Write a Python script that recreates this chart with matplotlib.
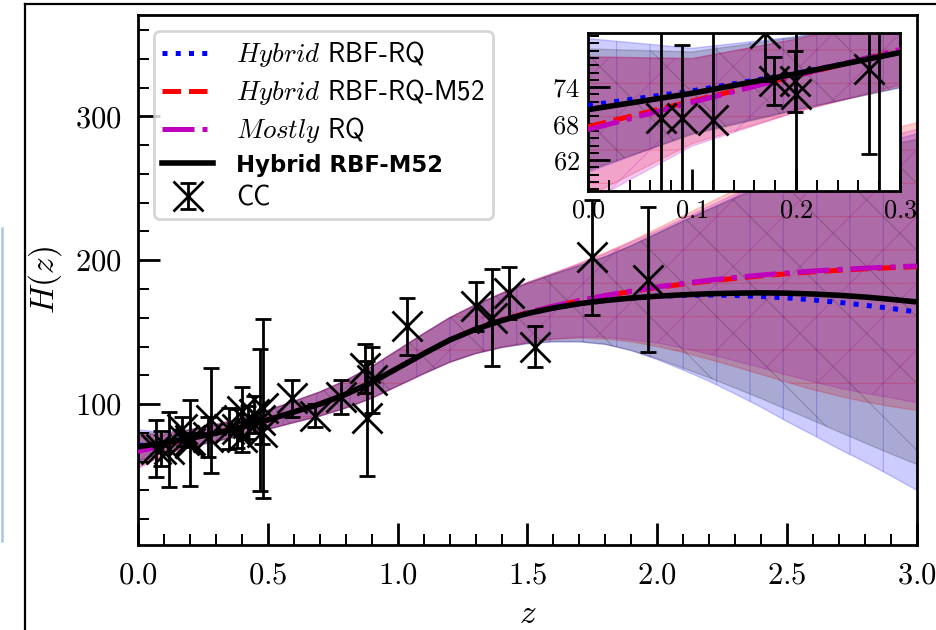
import numpy as np
import matplotlib
matplotlib.use("Agg")
import matplotlib.pyplot as plt
from matplotlib.ticker import MultipleLocator, FixedLocator
from matplotlib.font_manager import FontProperties
from matplotlib.lines import Line2D

plt.rcParams.update({
    "font.family": "serif",
    "font.serif": ["cmr10"],
    "mathtext.fontset": "cm",
    "axes.formatter.use_mathtext": True,
    "axes.unicode_minus": False,
    "hatch.linewidth": 0.45,
    "axes.linewidth": 1.0,
})

# ---- Cosmic chronometer measurements ----
z_cc = [0.07, 0.09, 0.12, 0.17, 0.179, 0.199, 0.2, 0.27, 0.28, 0.352, 0.38,
        0.4, 0.4004, 0.425, 0.445, 0.47, 0.4783, 0.48, 0.593, 0.68, 0.781,
        0.875, 0.88, 0.9, 1.037, 1.3, 1.363, 1.43, 1.53, 1.75, 1.965]
H_cc = [69.0, 69.0, 68.6, 83.0, 75.0, 75.0, 72.9, 77.0, 88.8, 83.0, 83.0,
        95.0, 77.0, 87.1, 92.8, 89.0, 80.9, 97.0, 104.0, 92.0, 105.0,
        125.0, 90.0, 117.0, 154.0, 168.0, 160.0, 177.0, 140.0, 202.0, 186.5]
sig_cc = [19.6, 12.0, 26.2, 8.0, 4.0, 5.0, 29.6, 14.0, 36.6, 14.0, 13.5,
          17.0, 10.2, 11.2, 12.9, 49.6, 9.0, 62.0, 13.0, 8.0, 12.0,
          17.0, 40.0, 23.0, 20.0, 17.0, 33.6, 18.0, 14.0, 40.0, 50.4]

# ---- GP reconstructions (mean and band half-width) ----
z_gp = [0.0, 0.1, 0.2, 0.3, 0.4, 0.5, 0.6, 0.7, 0.8, 0.9, 1.0,
        1.1, 1.2, 1.3, 1.4, 1.5, 1.6, 1.7, 1.8, 1.9, 2.0,
        2.1, 2.2, 2.3, 2.4, 2.5, 2.6, 2.7, 2.8, 2.9, 3.0]

H_rbf_rq = [71.0, 73.4, 76.3, 79.7, 84.0, 89.0, 94.5, 100.0, 106.8, 115.0, 125.0,
            135.0, 144.5, 152.0, 158.0, 163.0, 166.8, 169.8, 172.0, 173.7, 174.9,
            175.6, 175.8, 175.5, 174.8, 173.8, 172.4, 170.7, 168.7, 166.5, 164.0]
H_rbf_rq_m52 = [67.5, 71.7, 75.9, 80.0, 84.2, 89.0, 94.5, 100.0, 106.8, 115.0, 125.0,
                135.0, 144.5, 152.2, 158.3, 163.6, 168.0, 171.9, 175.3, 178.3, 181.0,
                183.4, 185.5, 187.4, 189.1, 190.6, 191.9, 193.0, 194.0, 194.8, 195.5]
H_mostly_rq = [67.0, 71.5, 75.9, 80.2, 84.3, 89.0, 94.5, 100.0, 106.8, 115.0, 125.0,
               135.0, 144.5, 152.2, 158.3, 163.6, 168.1, 172.0, 175.5, 178.6, 181.4,
               183.9, 186.1, 188.0, 189.7, 191.2, 192.5, 193.6, 194.5, 195.3, 196.0]
H_rbf_m52 = [70.3, 73.0, 76.2, 79.7, 84.0, 89.0, 94.5, 100.0, 106.8, 115.0, 125.0,
             135.0, 144.5, 152.0, 158.0, 163.0, 166.8, 169.8, 172.0, 173.7, 175.0,
             176.0, 176.7, 177.1, 177.3, 177.1, 176.5, 175.6, 174.4, 172.8, 171.0]

err_rbf_rq = [11.0, 7.0, 6.0, 5.8, 6.0, 6.6, 7.4, 8.4, 9.6, 11.0, 12.5,
              14.0, 15.5, 17.0, 18.8, 21.0, 23.5, 26.5, 30.5, 36.5, 44.0,
              52.0, 60.0, 68.5, 77.0, 86.0, 94.0, 102.0, 109.0, 116.5, 124.0]
err_rbf_rq_m52 = [11.5, 7.0, 6.0, 5.8, 6.0, 6.6, 7.4, 8.4, 9.6, 11.0, 12.5,
                  14.0, 15.5, 17.0, 18.8, 21.0, 23.0, 26.0, 30.0, 35.0, 41.0,
                  47.5, 54.5, 61.5, 68.5, 75.5, 82.0, 87.5, 92.5, 96.5, 100.0]
err_mostly_rq = [12.0, 7.2, 6.0, 5.8, 6.0, 6.6, 7.4, 8.4, 9.6, 11.0, 12.5,
                 14.0, 15.5, 17.0, 18.8, 21.0, 22.8, 25.5, 29.0, 34.0, 39.0,
                 45.0, 51.5, 58.0, 64.5, 71.0, 77.0, 82.5, 87.0, 91.0, 95.0]
err_rbf_m52 = [10.0, 6.8, 6.0, 5.8, 6.0, 6.6, 7.4, 8.4, 9.6, 11.0, 12.5,
               14.0, 15.5, 17.0, 18.8, 21.0, 23.5, 26.5, 30.5, 36.5, 43.5,
               51.0, 58.5, 66.0, 73.5, 81.0, 88.0, 95.0, 101.5, 107.5, 113.0]

models = [
    (r"$Hybrid$ RBF-RQ", H_rbf_rq, err_rbf_rq, "b", ":", "|", 0.2),
    (r"$Hybrid$ RBF-RQ-M52", H_rbf_rq_m52, err_rbf_rq_m52, "r", "--", "-", 0.2),
    (r"$Mostly$ RQ", H_mostly_rq, err_mostly_rq, "m", "-.", "/", 0.2),
    ("Hybrid RBF-M52", H_rbf_m52, err_rbf_m52, "k", "-", "\\", 0.17),
]

W, Hpx = 937, 630
fig = plt.figure(figsize=(W / 200, Hpx / 200), dpi=200)


def draw(ax, with_labels):
    zg = np.asarray(z_gp)
    for label, mean, err, col, ls, hatch, a in models:
        m = np.asarray(mean)
        e = np.asarray(err)
        ax.fill_between(zg, m - e, m + e, facecolor=col, edgecolor=col,
                        alpha=a, hatch=hatch, linewidth=0.5, zorder=1)
    for label, mean, err, col, ls, hatch, a in models:
        lw = 2.0 if col == "k" else 1.8
        ax.plot(zg, mean, ls, color=col, lw=lw,
                label=label if with_labels else None, zorder=3)
    ax.errorbar(z_cc, H_cc, yerr=sig_cc, fmt="x", color="k", ms=11, mew=1.0,
                elinewidth=1.0, capsize=3, capthick=1.0,
                label="CC" if with_labels else None, zorder=4)


# ---- main panel ----
ax = fig.add_axes([138 / W, 1 - 545 / Hpx, 779 / W, 530 / Hpx])
draw(ax, True)
ax.set_xlim(0, 3.0)
ax.set_ylim(2, 370.5)
ax.xaxis.set_major_locator(MultipleLocator(0.5))
ax.xaxis.set_minor_locator(MultipleLocator(0.1))
ax.yaxis.set_major_locator(MultipleLocator(100))
ax.yaxis.set_minor_locator(MultipleLocator(20))
ax.tick_params(which="both", direction="in", top=False, right=False, labelsize=11)
ax.tick_params(which="major", length=8, width=1.0, pad=6)
ax.tick_params(which="minor", length=4, width=0.7)
ax.set_xlabel(r"$z$", fontsize=12, labelpad=4)
ax.set_ylabel(r"$H(z)$", fontsize=12, labelpad=4)

leg = ax.legend(loc="upper left", prop=FontProperties(family="cmss10", size=9.7),
                handlelength=1.9, handletextpad=0.85, labelspacing=0.3,
                borderpad=0.3, borderaxespad=0.6, framealpha=0.8, fancybox=True)
leg.get_texts()[3].set_fontproperties(
    FontProperties(family="DejaVu Sans", weight="bold", size=8.2))

# ---- zoomed panel at low redshift ----
axin = fig.add_axes([588 / W, 1 - 190.5 / Hpx, 312 / W, 158 / Hpx])
draw(axin, False)
axin.set_xlim(0, 0.3)
axin.set_ylim(57, 83)
axin.xaxis.set_major_locator(MultipleLocator(0.1))
axin.xaxis.set_minor_locator(MultipleLocator(0.02))
axin.yaxis.set_major_locator(FixedLocator([62, 68, 74]))
axin.yaxis.set_minor_locator(FixedLocator([57.2, 58.4, 59.6, 60.8, 63.2, 64.4,
                                           65.6, 66.8, 69.2, 70.4, 71.6, 72.8,
                                           75.2, 76.4, 77.6, 78.8, 80.0, 81.2,
                                           82.4]))
axin.tick_params(which="both", direction="in", labelsize=9.5)
axin.tick_params(which="major", length=8, width=1.0, pad=3)
axin.tick_params(which="minor", length=4, width=0.7)

# ---- page frame around the figure ----
fig.add_artist(Line2D([25 / W, 25 / W], [0, 1 - 4 / Hpx], color="k", lw=0.8,
                      transform=fig.transFigure))
fig.add_artist(Line2D([25 / W, 1], [1 - 4 / Hpx, 1 - 4 / Hpx], color="k", lw=0.8,
                      transform=fig.transFigure))
fig.add_artist(Line2D([2 / W, 2 / W], [1 - 541 / Hpx, 1 - 228 / Hpx],
                      color="#a9c4ef", lw=0.9, transform=fig.transFigure))

fig.savefig("out.png", dpi=200)
